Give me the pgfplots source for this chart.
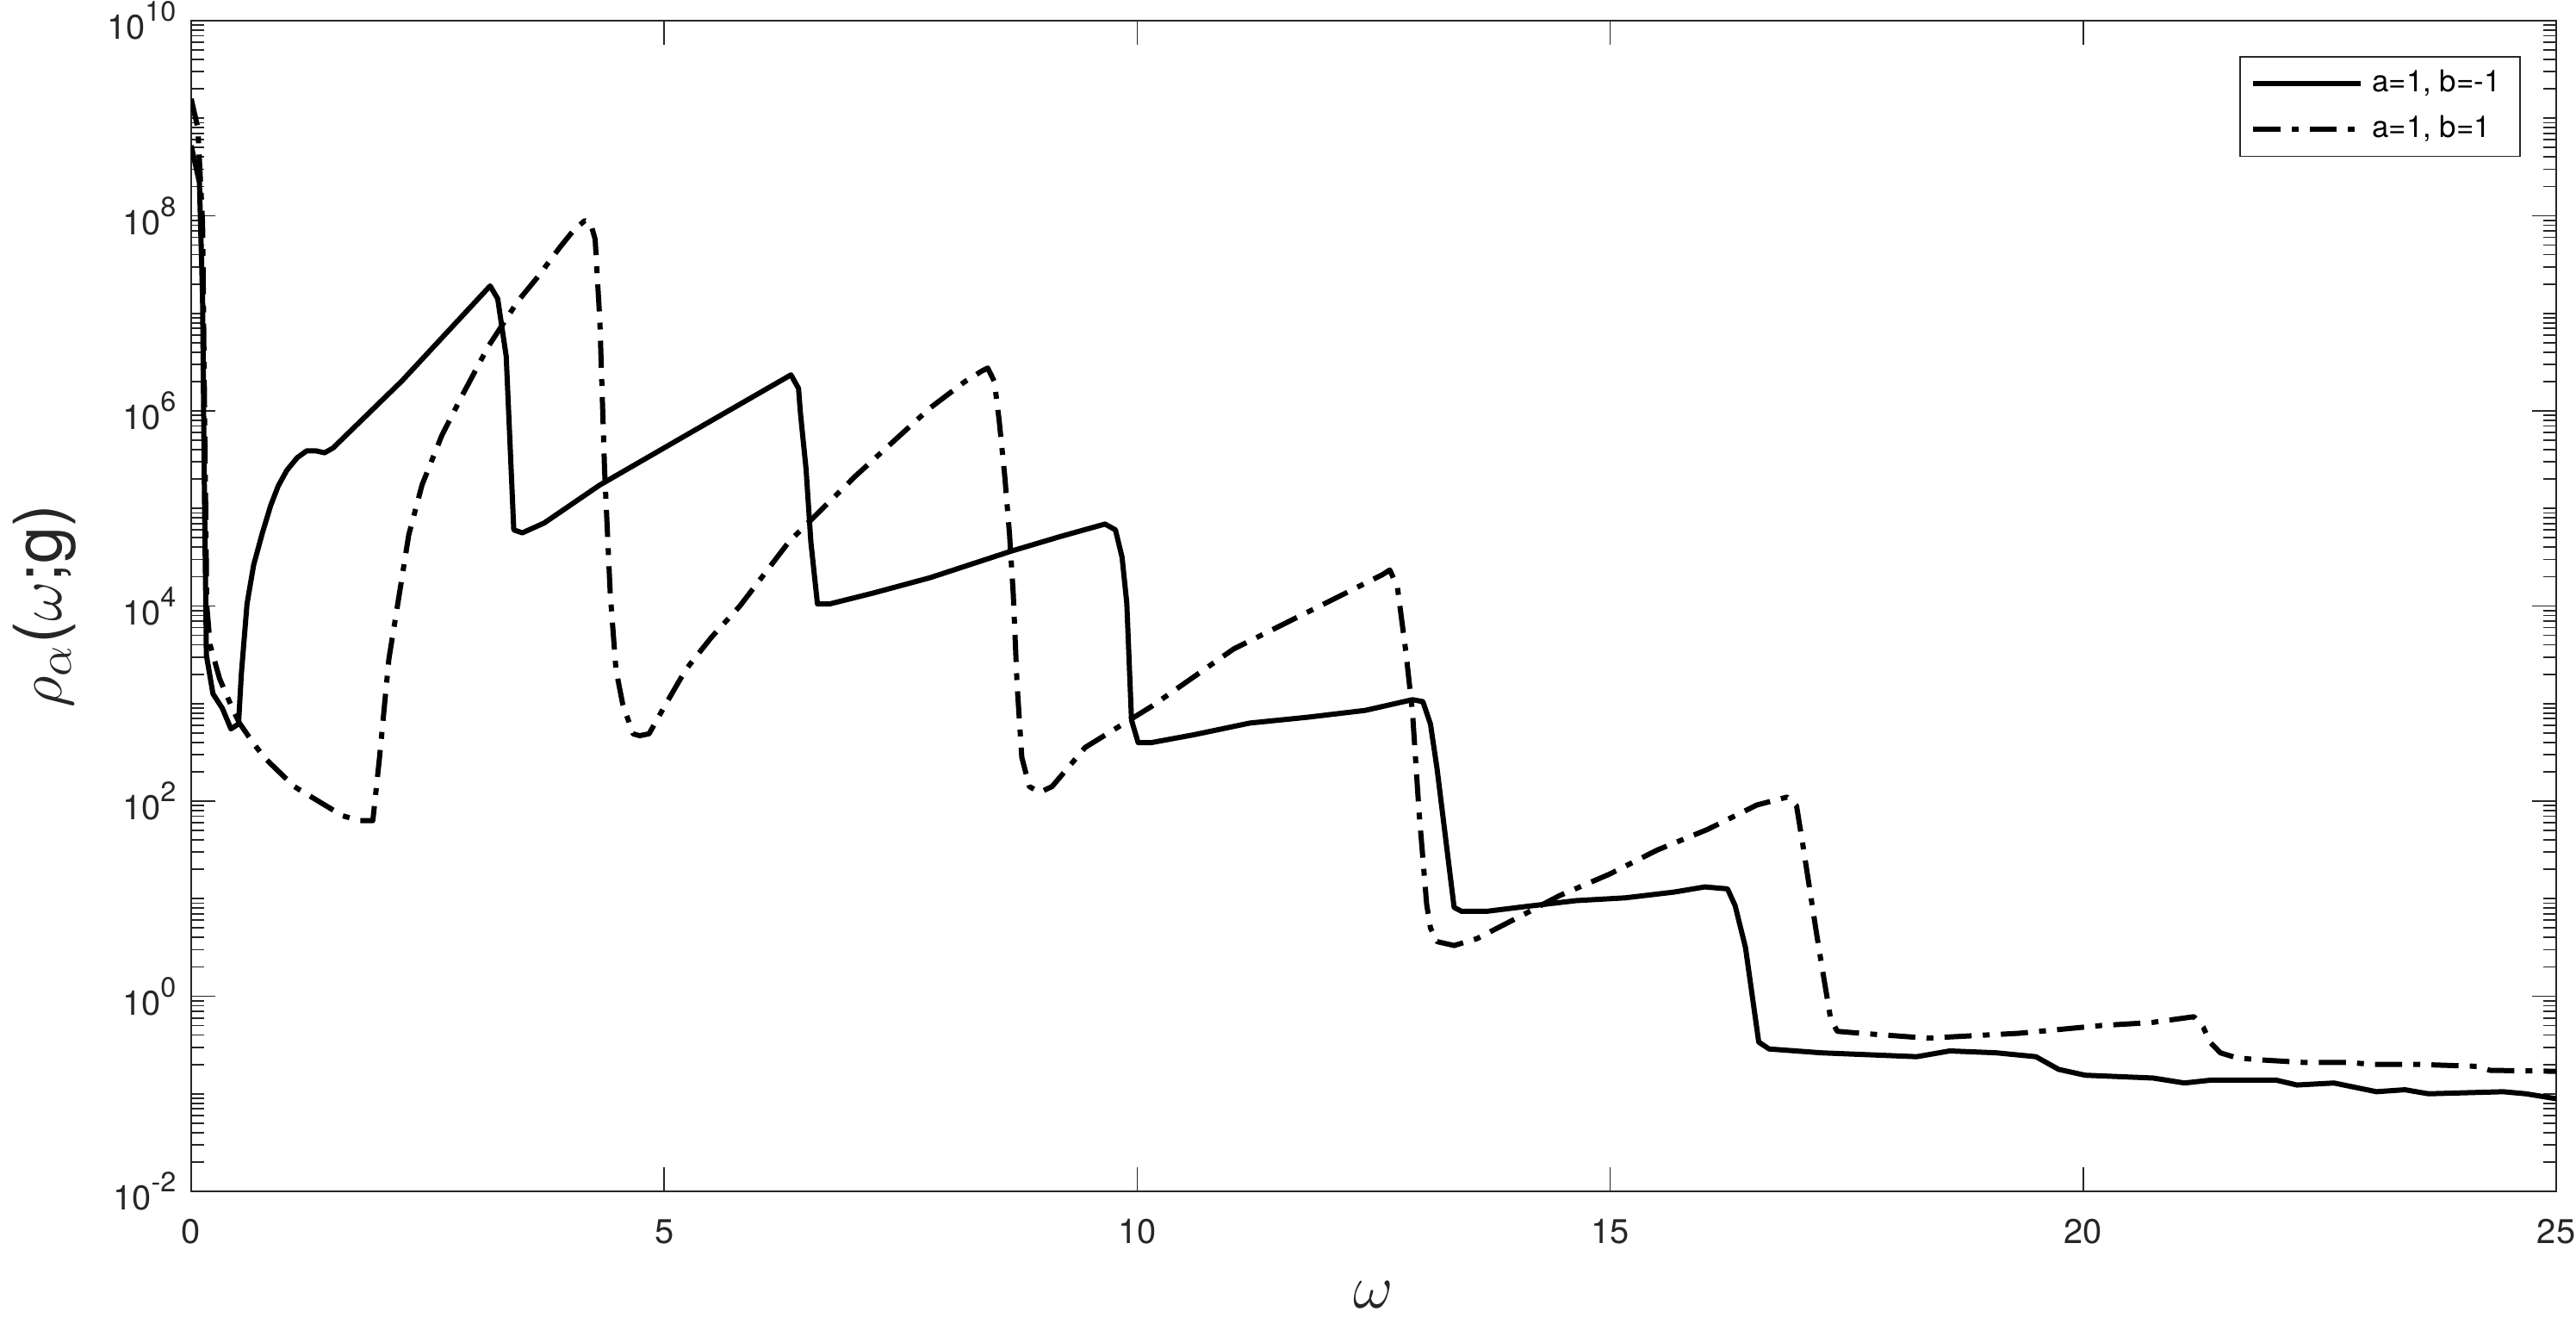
\documentclass[border=0pt]{standalone}
\usepackage{fontspec}
\setmainfont{TeX Gyre Heros}
\usepackage{pgfplots}
\pgfplotsset{compat=1.18}
\definecolor{axgray}{gray}{0.15}
\newcommand\tenexp[1]{10\raisebox{0.52em}{\fontsize{6.5}{6.5}\selectfont #1}}

\begin{document}
\begin{tikzpicture}
\begin{axis}[
    scale only axis, width=549.2bp, height=271.8bp,
    xmin=0, xmax=25,
    ymode=log, ymin=1e-2, ymax=1e10,
    axis line style={axgray, line width=0.35bp},
    tick style={axgray, line width=0.35bp},
    tick align=inside, tick pos=both,
    major tick length=5.6bp, minor tick length=3bp,
    xtick={0,5,10,15,20,25},
    ytick={1e-2,1,1e2,1e4,1e6,1e8,1e10},
    yticklabels={\tenexp{-2},\tenexp{0},\tenexp{2},\tenexp{4},\tenexp{6},\tenexp{8},\tenexp{10}},
    minor ytick={2e-2,3e-2,4e-2,5e-2,6e-2,7e-2,8e-2,9e-2,
      1e-1,2e-1,3e-1,4e-1,5e-1,6e-1,7e-1,8e-1,9e-1,
      2e0,3e0,4e0,5e0,6e0,7e0,8e0,9e0,
      1e1,2e1,3e1,4e1,5e1,6e1,7e1,8e1,9e1,
      2e2,3e2,4e2,5e2,6e2,7e2,8e2,9e2,
      1e3,2e3,3e3,4e3,5e3,6e3,7e3,8e3,9e3,
      2e4,3e4,4e4,5e4,6e4,7e4,8e4,9e4,
      1e5,2e5,3e5,4e5,5e5,6e5,7e5,8e5,9e5,
      2e6,3e6,4e6,5e6,6e6,7e6,8e6,9e6,
      1e7,2e7,3e7,4e7,5e7,6e7,7e7,8e7,9e7,
      2e8,3e8,4e8,5e8,6e8,7e8,8e8,9e8,
      1e9,2e9,3e9,4e9,5e9,6e9,7e9,8e9,9e9},
    ticklabel style={font=\fontsize{8}{9.6}\selectfont, text=axgray},
    xticklabel style={yshift=-3bp},
    /pgf/number format/assume math mode=true,
    xlabel={$\omega$},
    ylabel={$\rho_{\alpha}$($\omega$;g)},
    xlabel style={at={(axis description cs:0.5,-0.088)}, anchor=center,
      font=\fontsize{14}{16}\selectfont, text=axgray},
    ylabel style={at={(axis description cs:-0.062,0.5)}, anchor=center,
      font=\fontsize{15.5}{17}\selectfont, text=axgray},
    legend style={at={(rel axis cs:1,1)}, anchor=north east, xshift=-8.2bp, yshift=-8.2bp,
      draw=axgray, line width=0.35bp, fill=white,
      font=\fontsize{7}{8.4}\selectfont,
      inner xsep=2.5bp, inner ysep=1bp, row sep=0bp,
      cells={anchor=west}},
    legend image code/.code={\draw[#1] (0bp,0bp) -- (25bp,0bp);},
]
\coordinate (bl) at (rel axis cs:0,0);
\coordinate (tr) at (rel axis cs:1,1);

% a=1, b=-1
\addplot[black, no marks, line width=1.2bp, line join=round] coordinates {
 (0,5.25e8) (0.087,2.19e8) (0.12,1.48e7) (0.14,1.35e5) (0.157,6.46e3) (0.16,3.16e3)
 (0.23,1.26e3) (0.33,891) (0.42,550) (0.5,617) (0.53,2.0e3) (0.59,1.05e4) (0.66,2.63e4)
 (0.75,5.5e4) (0.84,1.07e5) (0.92,1.7e5) (1.01,2.45e5) (1.12,3.31e5) (1.22,3.89e5)
 (1.32,3.89e5) (1.41,3.72e5) (1.5,4.17e5) (2.23,2.04e6) (3.16,1.91e7) (3.24,1.41e7)
 (3.33,3.63e6) (3.41,6.03e4) (3.5,5.62e4) (3.73,7.08e4) (4.32,1.74e5) (5.23,5.62e5)
 (6.34,2.34e6) (6.42,1.7e6) (6.44,9.55e5) (6.5,2.51e5) (6.55,4.57e4) (6.62,1.05e4)
 (6.75,1.05e4) (7.2,1.35e4) (7.81,1.95e4) (8.66,3.63e4) (9.18,5.13e4) (9.66,6.92e4)
 (9.77,6.03e4) (9.84,3.16e4) (9.89,1.07e4) (9.94,676) (10.01,398) (10.15,398)
 (10.6,479) (11.19,631) (11.8,724) (12.41,851) (12.91,1096) (13.02,1047) (13.1,617)
 (13.17,214) (13.35,8.13) (13.43,7.41) (13.69,7.41) (14.11,8.32) (14.64,9.55)
 (15.16,10.2) (15.68,11.7) (16.0,13.2) (16.24,12.6) (16.32,8.51) (16.43,3.16)
 (16.57,0.339) (16.68,0.288) (17.23,0.263) (18.24,0.24) (18.59,0.275) (19.08,0.263)
 (19.5,0.24) (19.74,0.178) (20.02,0.155) (20.74,0.145) (21.07,0.129) (21.35,0.138)
 (22.04,0.138) (22.26,0.123) (22.65,0.129) (23.1,0.105) (23.4,0.11) (23.65,0.1)
 (24.44,0.105) (24.68,0.1) (25,0.089)
};
\addlegendentry{a=1, b=-1}

% a=1, b=1
\addplot[black, no marks, line width=1.2bp, line join=round,
  dash pattern=on 6.3bp off 2.6bp on 1.6bp off 2.6bp] coordinates {
 (0,1.58e9) (0.07,7.94e8) (0.12,8.51e7) (0.14,1.41e6) (0.165,1e4) (0.2,4e3) (0.3,1.8e3)
 (0.44,871) (0.51,631) (0.66,389) (0.78,275) (1.09,141) (1.24,115) (1.6,70.8)
 (1.78,63.1) (1.92,63.1) (1.99,275) (2.09,2.88e3) (2.2,1.32e4) (2.3,5.37e4)
 (2.44,1.74e5) (2.65,5.62e5) (2.86,1.41e6) (3.14,4.57e6) (3.45,1.32e7) (3.66,2.34e7)
 (3.9,4.79e7) (4.05,7.24e7) (4.16,8.91e7) (4.22,8.51e7) (4.27,5.75e7) (4.32,8.32e6)
 (4.37,2.45e5) (4.43,1.32e4) (4.49,2.24e3) (4.56,1e3) (4.67,490) (4.74,468) (4.84,490)
 (5.02,1e3) (5.23,2.24e3) (5.5,4.79e3) (5.8,1e4) (6.32,4.57e4) (7.02,2.14e5)
 (7.81,1.07e6) (8.18,2.0e6) (8.36,2.57e6) (8.42,2.75e6) (8.49,2.0e6) (8.54,8.13e5)
 (8.6,2.14e5) (8.65,5.5e4) (8.69,1.32e4) (8.73,1.58e3) (8.78,282) (8.86,141) (8.97,123)
 (9.1,141) (9.45,355) (10.15,933) (11.02,3.63e3) (11.89,9.55e3) (12.59,2.09e4)
 (12.67,2.34e4) (12.75,1.58e4) (12.84,3.39e3) (12.91,813) (12.98,75.9) (13.06,8.71)
 (13.1,5.01) (13.17,3.63) (13.35,3.31) (13.59,3.89) (14.11,7.08) (14.46,10.7)
 (14.99,17.8) (15.5,31.6) (16.03,51.3) (16.55,91.2) (16.87,110) (16.97,89.1)
 (17.04,33.9) (17.18,4.47) (17.23,2.24) (17.33,0.589) (17.4,0.437) (17.65,0.417)
 (18.35,0.372) (19.32,0.417) (20.19,0.501) (20.72,0.537) (21.17,0.617) (21.27,0.479)
 (21.34,0.339) (21.45,0.263) (21.62,0.234) (21.83,0.224) (22.35,0.209) (22.8,0.209)
 (23.08,0.2) (23.55,0.2) (24.17,0.191) (24.3,0.174) (25,0.17)
};
\addlegendentry{a=1, b=1}
\end{axis}
\pgfresetboundingbox
\path[use as bounding box] ([shift={(-44.4bp,-30.8bp)}]bl) rectangle ([shift={(4.6bp,4.8bp)}]tr);
\end{tikzpicture}
\end{document}
